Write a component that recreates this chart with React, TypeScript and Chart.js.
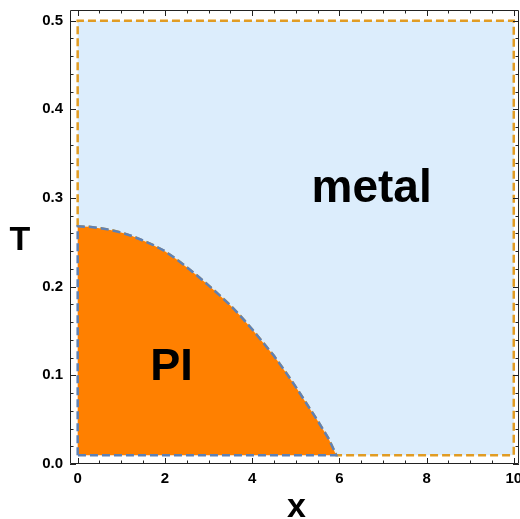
import React, { useEffect, useRef } from "react";
import { Chart, registerables } from "chart.js";

Chart.register(...registerables);

// Phase boundary between PI and metal
const curveX = [0, 0.25, 0.5, 0.75, 1, 1.25, 1.5, 1.75, 2, 2.25, 2.5, 2.75, 3, 3.25, 3.5, 3.75, 4, 4.25, 4.5, 4.75, 5, 5.25, 5.5, 5.75, 5.93];
const curveT = [0.268, 0.2675, 0.266, 0.264, 0.261, 0.257, 0.252, 0.2465, 0.24, 0.2315, 0.222, 0.212, 0.2015, 0.1905, 0.179, 0.166, 0.152, 0.137, 0.122, 0.105, 0.087, 0.068, 0.049, 0.029, 0.01];

// Outer box of the phase diagram
const xLow = 0;
const xHigh = 10;
const tLow = 0.01;
const tHigh = 0.5;

// Axis ranges and ticks
const xMin = -0.176;
const xMax = 10.12;
const tMin = 0;
const tMax = 0.512;
const xMajorTicks = [0, 2, 4, 6, 8, 10];
const tMajorTicks = [0, 0.1, 0.2, 0.3, 0.4, 0.5];

// Region labels (data coordinates)
const regionLabels = [
  { text: "metal", x: 6.74, t: 0.2955, size: 46 },
  { text: "PI", x: 2.15, t: 0.095, size: 45 },
];

const FONT = "'Liberation Sans', Arial, sans-serif";

const curvePts = curveX.map((x, i) => ({ x, y: curveT[i] }));

const piData = [{ x: xLow, y: tLow }, ...curvePts, { x: xLow, y: tLow }];
const metalData = [
  { x: xLow, y: curveT[0] },
  { x: xLow, y: tHigh },
  { x: xHigh, y: tHigh },
  { x: xHigh, y: tLow },
  ...curvePts.slice().reverse(),
];

const framePlugin = {
  id: "frameAndLabels",
  afterDatasetsDraw(chart: any) {
    const { ctx, chartArea, scales } = chart;
    const xs = scales.x;
    const ys = scales.y;
    const { left, right, top, bottom } = chartArea;
    ctx.save();
    ctx.strokeStyle = "#222";
    ctx.lineWidth = 1;
    ctx.beginPath();
    ctx.rect(left + 0.5, top + 0.5, right - left - 1, bottom - top - 1);
    ctx.stroke();
    ctx.beginPath();
    for (let v = 0; v <= 10.001; v += 0.5) {
      const px = Math.round(xs.getPixelForValue(v)) + 0.5;
      const major = Math.abs(v / 2 - Math.round(v / 2)) < 1e-6;
      const len = major ? 6 : 3.5;
      ctx.moveTo(px, bottom);
      ctx.lineTo(px, bottom - len);
      ctx.moveTo(px, top);
      ctx.lineTo(px, top + len);
    }
    for (let i = 0; i <= 25; i++) {
      const v = i * 0.02;
      const py = Math.round(ys.getPixelForValue(v)) + 0.5;
      const major = i % 5 === 0;
      const len = major ? 6 : 3.5;
      ctx.moveTo(left, py);
      ctx.lineTo(left + len, py);
      ctx.moveTo(right, py);
      ctx.lineTo(right - len, py);
    }
    ctx.stroke();

    ctx.fillStyle = "#000";
    ctx.textAlign = "center";
    ctx.textBaseline = "alphabetic";
    for (const l of regionLabels) {
      ctx.font = `bold ${l.size}px ${FONT}`;
      ctx.fillText(l.text, xs.getPixelForValue(l.x), ys.getPixelForValue(l.t));
    }
    ctx.font = `bold 34px ${FONT}`;
    ctx.textBaseline = "middle";
    ctx.fillText("T", 20, (top + bottom) / 2 + 4);
    ctx.textBaseline = "alphabetic";
    ctx.fillText("x", (left + right) / 2 + 2, 517);
    ctx.restore();
  },
};

export default function App() {
  const ref = useRef<HTMLCanvasElement | null>(null);
  useEffect(() => {
    if (!ref.current) return;
    const chart = new Chart(ref.current, {
      type: "scatter",
      data: {
        datasets: [
          {
            label: "PI",
            data: piData,
            showLine: true,
            fill: "shape",
            backgroundColor: "#FF8000",
            borderColor: "#5E81B5",
            borderWidth: 2.5,
            borderDash: [8, 4],
            pointRadius: 0,
            tension: 0,
          } as any,
          {
            label: "metal",
            data: metalData,
            showLine: true,
            fill: "shape",
            backgroundColor: "#DCEDFC",
            borderColor: "#E19C24",
            borderWidth: 2.5,
            borderDash: [8, 4],
            pointRadius: 0,
            tension: 0,
          } as any,
        ],
      },
      options: {
        animation: false,
        responsive: true,
        maintainAspectRatio: false,
        layout: { padding: { top: 10, right: 1, left: 0, bottom: 0 } },
        plugins: {
          legend: { display: false },
          tooltip: { enabled: false },
          filler: { propagate: false },
        },
        scales: {
          x: {
            type: "linear",
            min: xMin,
            max: xMax,
            afterFit: (s: any) => {
              s.height = 55;
              s.paddingLeft = 0;
              s.paddingRight = 0;
            },
            afterBuildTicks: (s: any) => {
              s.ticks = xMajorTicks.map((v) => ({ value: v }));
            },
            ticks: {
              autoSkip: false,
              maxRotation: 0,
              padding: 6,
              color: "#000",
              font: { family: FONT, size: 15, weight: "bold" },
              callback: (v: any) => String(v),
            },
            grid: { display: false, drawTicks: false },
            border: { display: false },
          },
          y: {
            type: "linear",
            min: tMin,
            max: tMax,
            afterFit: (s: any) => {
              s.width = 70;
              s.paddingTop = 0;
              s.paddingBottom = 0;
            },
            afterBuildTicks: (s: any) => {
              s.ticks = tMajorTicks.map((v) => ({ value: v }));
            },
            ticks: {
              autoSkip: false,
              padding: 7,
              color: "#000",
              font: { family: FONT, size: 15, weight: "bold" },
              callback: (v: any) => Number(v).toFixed(1),
            },
            grid: { display: false, drawTicks: false },
            border: { display: false },
          },
        },
      },
      plugins: [framePlugin],
    });
    return () => chart.destroy();
  }, []);
  return (
    <div style={{ position: "absolute", left: 0, top: 0, width: 520, height: 519, background: "#fff" }}>
      <canvas ref={ref} />
    </div>
  );
}
